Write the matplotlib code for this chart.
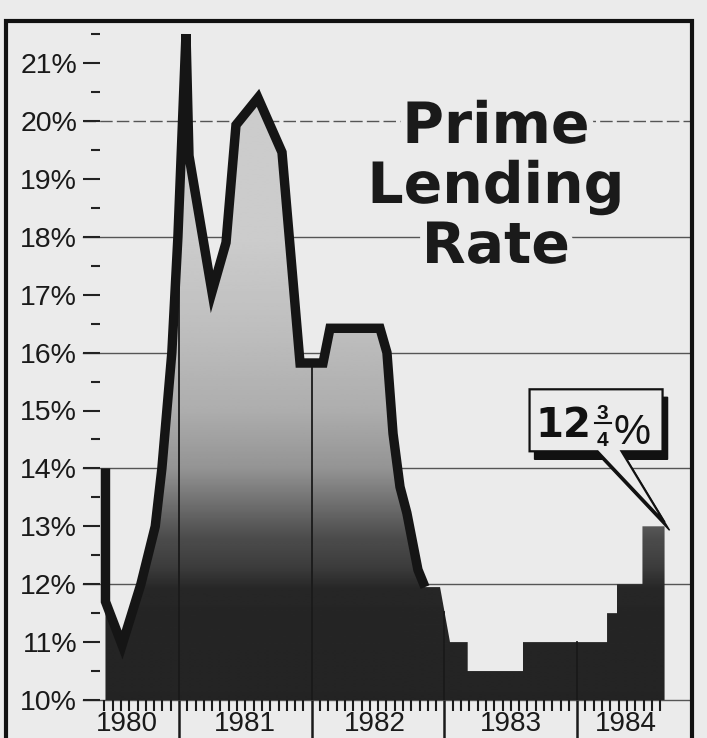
import numpy as np
import matplotlib
matplotlib.use("Agg")
import matplotlib.pyplot as plt
from matplotlib.patches import Polygon, Rectangle
from matplotlib.transforms import Affine2D, IdentityTransform
import matplotlib.patheffects as pe

# months counted from Jan 1980 (0 = start of 1980), prime rate in percent
months = [5.35, 5.35, 6.85, 8.55, 9.85, 10.45, 11.35, 11.9, 12.63, 12.9, 14.98,
          16.25, 17.15, 19.14, 21.31, 22.94, 25.02, 25.65, 30.17, 30.8, 31.35,
          31.98, 32.6, 33.6, 34.24, 35.6, 36.5, 38.1, 38.1, 43.1, 43.1, 50.7,
          50.7, 51.6, 51.6, 53.9, 53.9, 55.9]
rates = [14.0, 11.7, 10.95, 12.0, 13.0, 14.0, 16.0, 18.0, 21.5, 19.4, 17.05,
         17.9, 19.93, 20.4, 19.46, 15.82, 15.82, 16.42, 16.42, 16.0, 14.6,
         13.68, 13.23, 12.25, 11.95, 11.95, 11.0, 11.0, 10.5, 10.5, 11.0, 11.0,
         11.5, 11.5, 12.0, 12.0, 13.0, 13.0]
n_outline = 25  # outlined part of the curve (down to 12% in 1982)

years = ["1980", "1981", "1982", "1983", "1984"]
year_starts = [0, 12, 24, 36, 48]
year_label_pos = [7.3, 17.95, 29.7, 42.0, 52.4]

y_ticks = list(range(10, 22))
grid_levels = [10, 12, 14, 16, 18, 20]
callout = "12"

bg = "#ebebeb"
W, H = 707, 738
fig = plt.figure(figsize=(W / 100, H / 100), dpi=100, facecolor=bg)
ax = fig.add_axes([100 / W, 38 / H, 590 / W, 678 / H])
ax.set_facecolor(bg)
for s in ax.spines.values():
    s.set_visible(False)

# frame around the graphic
fig.patches.append(Rectangle((6 / W, -0.2), 686 / W, 0.2 + (H - 21) / H,
                             transform=fig.transFigure, fill=False,
                             edgecolor="#111", lw=3))

# horizontal guide lines
for lv in grid_levels:
    ax.plot([-0.029, 1.003], [lv, lv], transform=ax.get_yaxis_transform(),
            color="#555", lw=1.0, ls=(0, (9, 3)) if lv == 20 else "-",
            clip_on=False, zorder=1)

# shaded area with a vertical gradient
poly = ax.fill_between(months, 10, rates, facecolor="none", edgecolor="none")
ygrid = np.linspace(10, 22, 400)
shade = np.interp(ygrid, [10, 11.9, 12.3, 12.8, 13.4, 14.0, 15.0, 16.5, 18.0],
                  [0.14, 0.15, 0.24, 0.3, 0.44, 0.58, 0.68, 0.75, 0.8])
im = ax.imshow(shade[:, None], cmap="gray", vmin=0, vmax=1, aspect="auto",
               origin="lower", extent=[4, 60, 10, 22], interpolation="bilinear",
               zorder=2)
im.set_clip_path(poly.get_paths()[0], transform=ax.transData)
ax.set_xlim(4.855, 58.2)
ax.set_ylim(10, 10 + 678 / 57.9)

# year separators running up into the shading
for ys in year_starts[1:]:
    top = np.interp(ys, months, rates)
    ax.plot([ys, ys], [10, top], color="#1a1a1a", lw=1.3, zorder=3)

ax.plot(months[:n_outline], rates[:n_outline], color="#151515", lw=6.8,
        solid_joinstyle="miter", solid_capstyle="butt", zorder=4)

# y axis ticks
ax.set_yticks(y_ticks)
ax.set_yticklabels([f"{v}%" for v in y_ticks], fontsize=20.5,
                   family="Liberation Sans", color="#1a1a1a")
ax.set_yticks([v + 0.5 for v in y_ticks], minor=True)
ax.tick_params(axis="y", which="major", length=12.2, width=1.5, pad=4.3,
               color="#222")
ax.tick_params(axis="y", which="minor", length=6.5, width=1.5, color="#222")

# x axis: small ticks and year separators
minor_x = [ys + k * 0.75 for ys in year_starts for k in range(1, 16)]
minor_x = [m for m in minor_x if months[0] - 0.3 <= m <= months[-1]]
ax.set_xticks(year_starts[1:])
ax.set_xticklabels([])
ax.set_xticks(minor_x, minor=True)
ax.tick_params(axis="x", which="major", length=40, width=1.8, color="#1a1a1a")
ax.tick_params(axis="x", which="minor", length=8, width=1.5, color="#1a1a1a")
for lab, xp in zip(years, year_label_pos):
    ax.text(xp, -31 / 678, lab, transform=ax.get_xaxis_transform(),
            ha="center", va="baseline", fontsize=20, family="Liberation Sans",
            color="#1a1a1a")

# title
halo = [pe.withStroke(linewidth=10, foreground=bg)]
for word, yb in zip(["Prime", "Lending", "Rate"], [143, 203, 263]):
    fig.text(496 / W, (H - yb) / H, word, ha="center", va="baseline",
             fontsize=41, fontweight="bold", family="DejaVu Sans",
             color="#1a1a1a", path_effects=halo, zorder=5)

# callout pointing at the latest rate
fig.canvas.draw()
tx, ty = ax.transData.transform((months[-1], rates[-1]))
ty += 4
to_px = Affine2D().translate(tx, ty)
shape = np.array([(-135, 71), (-135, 133), (-2, 133), (-2, 71), (-43, 71),
                  (0, 0), (-67, 71)])
ax.add_patch(Polygon(shape + np.array([5, -8]), closed=True, facecolor="#111",
                     edgecolor="#111", lw=1, transform=to_px, clip_on=False,
                     zorder=6))
ax.add_patch(Polygon(shape, closed=True, facecolor=bg, edgecolor="#111",
                     lw=1.6, joinstyle="miter", transform=to_px, clip_on=False,
                     zorder=7))


def put(dx, dy, s, **kw):
    fig.text(tx + dx, ty + dy, s, transform=IdentityTransform(), zorder=8,
             color="#111", **kw)


put(-129, 85, callout, fontsize=29, fontweight="heavy", family="DejaVu Sans",
    ha="left", va="baseline")
put(-62, 103, "3", fontsize=15, fontweight="bold", family="Liberation Sans",
    ha="center", va="baseline")
put(-62, 76, "4", fontsize=15, fontweight="bold", family="Liberation Sans",
    ha="center", va="baseline")
fig.lines.append(plt.Line2D([tx - 70, tx - 54], [ty + 99, ty + 99],
                            transform=IdentityTransform(), color="#111", lw=1.5))
put(-51, 78, "%", fontsize=30, family="Liberation Sans", ha="left",
    va="baseline")

fig.savefig("out.png", dpi=100, facecolor=bg)
